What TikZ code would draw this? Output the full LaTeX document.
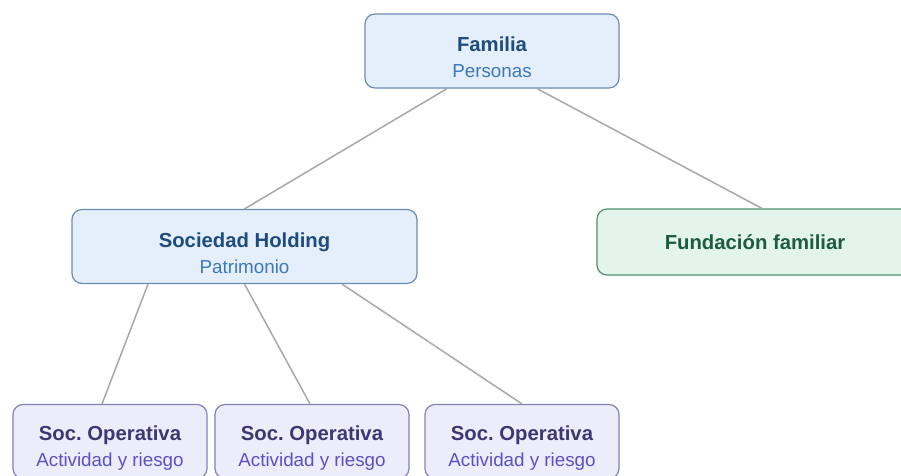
\documentclass[tikz,border=0pt]{standalone}
\usepackage{fontspec}
\setmainfont{Liberation Sans}
\usetikzlibrary{positioning}
\frenchspacing

\definecolor{fondoAzul}{HTML}{E5EFFB}
\definecolor{bordeAzul}{HTML}{6A8CB3}
\definecolor{tituloAzul}{HTML}{1F4C7E}
\definecolor{subAzul}{HTML}{3D78B8}
\definecolor{fondoVerde}{HTML}{E2F4EC}
\definecolor{bordeVerde}{HTML}{4F8F6F}
\definecolor{textoVerde}{HTML}{1E5C40}
\definecolor{fondoLila}{HTML}{EDECFB}
\definecolor{bordeLila}{HTML}{8580B8}
\definecolor{tituloLila}{HTML}{3B3872}
\definecolor{subLila}{HTML}{5A52C4}
\definecolor{linea}{HTML}{A8A8A8}

\tikzstyle{caja} = [draw, rectangle, rounded corners=10pt, line width=1.2pt,
    align=center, inner sep=0pt]
\tikzstyle{azul} = [caja, draw=bordeAzul, fill=fondoAzul, minimum height=74pt,
    font=\fontsize{18}{26}\selectfont]
\tikzstyle{verde} = [caja, draw=bordeVerde, fill=fondoVerde, minimum height=66pt,
    text=textoVerde, font=\fontsize{20.3}{26}\selectfont\bfseries]
\tikzstyle{lila} = [caja, draw=bordeLila, fill=fondoLila, minimum width=194pt,
    minimum height=74pt, font=\fontsize{18}{26}\selectfont]
\tikzstyle{enlace} = [draw=linea, line width=1.5pt]

\newcommand{\tituloA}[1]{\rule{0pt}{28pt}{\color{tituloAzul}\fontsize{20.3}{26}\selectfont\bfseries #1}}
\newcommand{\subA}[1]{{\color{subAzul}\fontsize{18.8}{26}\selectfont #1}}
\newcommand{\tituloL}[1]{\rule{0pt}{27pt}{\color{tituloLila}\fontsize{20.3}{26}\selectfont\bfseries #1}}
\newcommand{\subL}[1]{{\color{subLila}\fontsize{18.8}{26}\selectfont #1}}

\begin{document}
\begin{tikzpicture}[x=1pt, y=-1pt]
    \useasboundingbox (0,0) rectangle (901,475);
    \clip (0,0) rectangle (901,475);

    % arriba
    \node[azul, minimum width=254pt] (familia) at (492,51)
        {\tituloA{Familia}\\ \subA{Personas}};

    % nivel medio
    \node[azul, minimum width=345pt] (holding) at (244.5,246.5)
        {\tituloA{Sociedad Holding}\\ \subA{Patrimonio}};
    \node[verde, minimum width=316pt] (fundacion) at (755,242)
        {Fundación familiar};

    % operativas
    \node[lila] (op1) at (110,441.5)
        {\tituloL{Soc. Operativa}\\ \subL{Actividad y riesgo}};
    \node[lila] (op2) at (312,441.5)
        {\tituloL{Soc. Operativa}\\ \subL{Actividad y riesgo}};
    \node[lila] (op3) at (522,441.5)
        {\tituloL{Soc. Operativa}\\ \subL{Actividad y riesgo}};

    \draw[enlace] ([xshift=-45pt]familia.south) -- (holding.north);
    \draw[enlace] ([xshift=45pt]familia.south) -- ([xshift=7pt]fundacion.north);
    \draw[enlace] ([xshift=-96.5pt]holding.south) -- ([xshift=-8pt]op1.north);
    \draw[enlace] (holding.south) -- ([xshift=-2pt]op2.north);
    \draw[enlace] ([xshift=97.5pt]holding.south) -- (op3.north);
\end{tikzpicture}
\end{document}
